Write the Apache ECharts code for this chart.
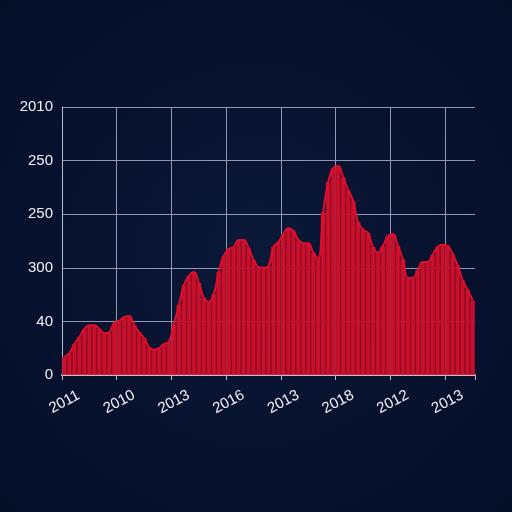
<!DOCTYPE html>
<html>
<head>
<meta charset="utf-8">
<script src="https://cdn.jsdelivr.net/npm/echarts@6/dist/echarts.min.js"></script>
<style>html,body{margin:0;padding:0;background:#08122e;}#c{width:512px;height:512px;}</style>
</head>
<body>
<div id="c"></div>
<script>
var yTickLabels = ["0", "40", "300", "250", "250", "2010"];
var xTickLabels = ["2011", "2010", "2013", "2016", "2013", "2018", "2012", "2013"];
var values = [
  0.34, 0.41, 0.58, 0.71, 0.86, 0.93, 0.93, 0.86, 0.78, 0.80,
  0.97, 1.01, 1.08, 1.10, 0.93, 0.80, 0.69, 0.52, 0.47, 0.50,
  0.58, 0.62, 0.95, 1.31, 1.68, 1.85, 1.92, 1.72, 1.44, 1.36,
  1.51, 1.92, 2.22, 2.35, 2.39, 2.52, 2.52, 2.37, 2.15, 2.01,
  2.00, 2.03, 2.39, 2.48, 2.63, 2.74, 2.69, 2.52, 2.46, 2.46,
  2.28, 2.18, 3.04, 3.60, 3.86, 3.90, 3.69, 3.45, 3.25, 2.85,
  2.71, 2.65, 2.39, 2.28, 2.41, 2.59, 2.63, 2.41, 2.16, 1.81,
  1.81, 1.96, 2.11, 2.11, 2.24, 2.39, 2.43, 2.41, 2.26, 2.05,
  1.77, 1.59, 1.40
];
var labelEvery = 11;
var categories = values.map(function (v, i) { return String(i); });

var chart = echarts.init(document.getElementById('c'), null, {renderer: 'canvas'});
chart.setOption({
  backgroundColor: {
    type: 'radial', x: 0.5, y: 0.5, r: 0.75,
    colorStops: [{offset: 0, color: '#0b1838'}, {offset: 1, color: '#050d26'}]
  },
  animation: false,
  grid: {left: 62, right: 37, top: 107, bottom: 137, containLabel: false},
  xAxis: {
    type: 'category',
    data: categories,
    boundaryGap: true,
    axisLine: {show: true, lineStyle: {color: '#ecc6cf', width: 2}},
    axisTick: {show: true, interval: labelEvery - 1, length: 5, lineStyle: {color: '#b9bfd0'}},
    splitLine: {show: true, showMaxLine: false, interval: labelEvery - 1, lineStyle: {color: '#8f99b6', width: 1}},
    axisLabel: {
      interval: labelEvery - 1,
      rotate: 28,
      align: 'center',
      verticalAlign: 'middle',
      margin: 27,
      color: '#f0f2f7',
      fontSize: 15,
      fontFamily: 'Liberation Sans',
      formatter: function (v, idx) { return xTickLabels[Math.round(idx / labelEvery)] || ''; }
    }
  },
  yAxis: {
    type: 'value',
    min: 0, max: 5, interval: 1,
    axisLine: {show: true, lineStyle: {color: '#b9bfd0', width: 1}},
    axisTick: {show: false},
    splitLine: {show: true, lineStyle: {color: '#8f99b6', width: 1}},
    axisLabel: {
      color: '#f0f2f7',
      fontSize: 15,
      fontFamily: 'Liberation Sans',
      margin: 9,
      formatter: function (v) { return yTickLabels[Math.round(v)]; }
    }
  },
  series: [
    {
      type: 'bar',
      data: values,
      barCategoryGap: '0%',
      itemStyle: {color: '#c8102c', borderColor: '#a20a25', borderWidth: 0.5}
    },
    {
      type: 'line',
      data: values,
      smooth: 0.4,
      symbol: 'none',
      lineStyle: {color: '#e0102c', width: 2}
    }
  ]
});
</script>
</body>
</html>
